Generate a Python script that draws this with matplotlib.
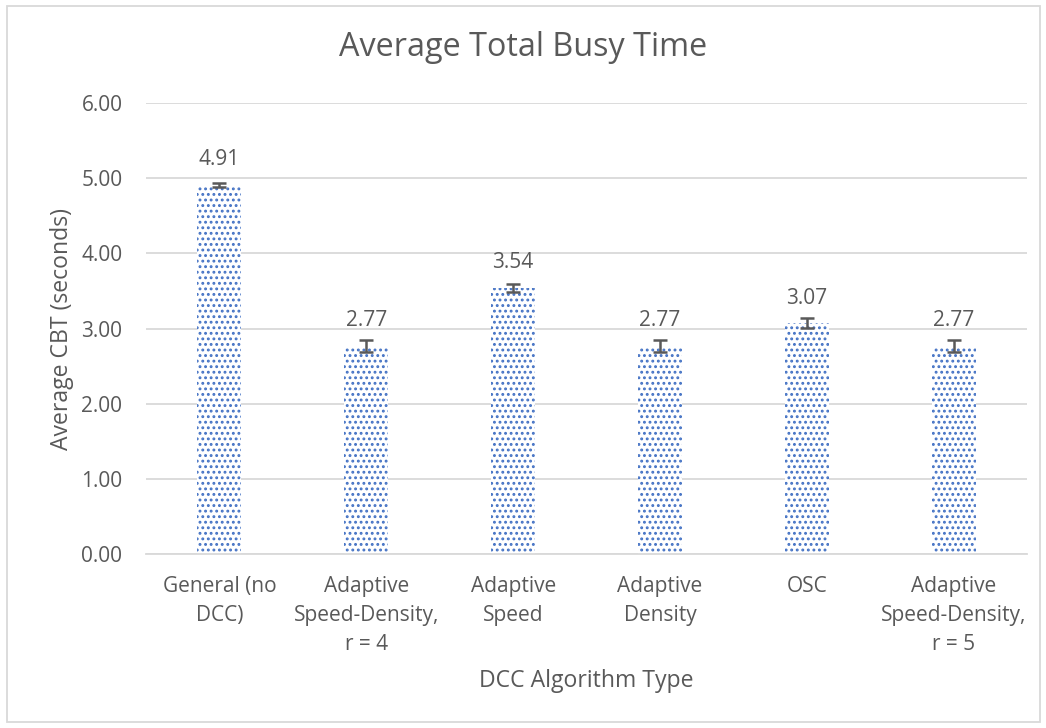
import numpy as np
import matplotlib.pyplot as plt
from matplotlib.patches import Rectangle

categories = ['General (no\nDCC)', 'Adaptive\nSpeed-Density,\nr = 4', 'Adaptive\nSpeed',
              'Adaptive\nDensity', 'OSC', 'Adaptive\nSpeed-Density,\nr = 5']
values = [4.91, 2.77, 3.54, 2.77, 3.07, 2.77]
errors = [0.03, 0.08, 0.05, 0.08, 0.065, 0.08]

blue = '#4472C4'
txt = '#595959'
grid = '#D9D9D9'

plt.rcParams['font.family'] = ['Open Sans', 'DejaVu Sans']
plt.rcParams['hatch.linewidth'] = 1.3
plt.rcParams['hatch.color'] = blue

fig = plt.figure(figsize=(10.46, 7.28), dpi=100)
ax = fig.add_axes([0.1396, 0.239, 0.8424, 0.6195])

index = np.arange(len(values))
ax.bar(index, values, width=0.3, color='white', edgecolor=blue, hatch='...', linewidth=0)
ax.errorbar(index, values, yerr=errors, fmt='none', ecolor='#595959', elinewidth=1.8,
            capsize=5, capthick=1.8)

for i, v in enumerate(values):
    ax.annotate('%.2f' % v, (i, v), xytext=(0, 18), textcoords='offset points',
                ha='center', va='center', fontsize=15, color=txt)

ax.set_xlim(-0.5, len(values) - 0.5)
ax.set_ylim(0, 6)
ax.set_yticks(np.arange(0, 7, 1))
ax.set_yticklabels(['%.2f' % t for t in np.arange(0, 7, 1)])
ax.set_xticks(index)
ax.set_xticklabels(categories, fontsize=15, color=txt, linespacing=1.5)
ax.tick_params(axis='y', labelsize=15, labelcolor=txt, length=0, pad=17)
ax.tick_params(axis='x', length=0, pad=16)
ax.grid(axis='y', color=grid, linewidth=1.3)
ax.set_axisbelow(True)
for s in ['top', 'right', 'left']:
    ax.spines[s].set_visible(False)
ax.spines['bottom'].set_color(grid)
ax.spines['bottom'].set_linewidth(1.3)

ax.set_xlabel('DCC Algorithm Type', fontsize=16.6, color=txt, labelpad=10)
ax.set_ylabel('Average CBT (seconds)', fontsize=16.6, color=txt, labelpad=5)
fig.text(0.5, 0.923, 'Average Total Busy Time', ha='center', va='baseline', fontsize=23.3, color=txt)

fig.patches.append(Rectangle((0.007, 0.008), 0.987, 0.984, transform=fig.transFigure,
                             fill=False, edgecolor=grid, linewidth=1.3))

fig.savefig('out.png', dpi=100)
